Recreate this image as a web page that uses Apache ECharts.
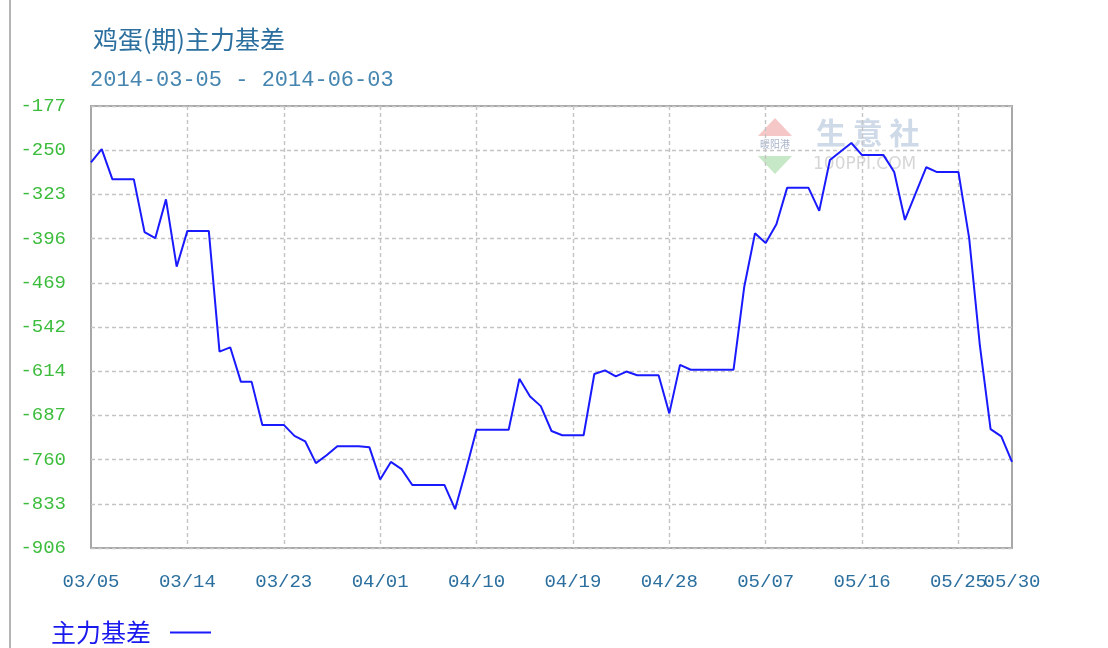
<!DOCTYPE html>
<html>
<head>
<meta charset="utf-8">
<script src="https://cdn.jsdelivr.net/npm/echarts@6/dist/echarts.min.js"></script>
<style>
html,body{margin:0;padding:0;background:#fff;}
#c{width:1108px;height:648px;}
</style>
</head>
<body>
<div id="c"></div>
<script>
// ---- data ----
const titleText = '鸡蛋(期)主力基差';
const subtitleText = '2014-03-05 - 2014-06-03';
const seriesName = '主力基差';
const startDate = '2014-03-05';
// one value per calendar day 03/05 .. 05/30 (non-trading days repeat last value)
const values = [
  -270, -248, -298, -298, -298, -385, -395, -331, -442, -383,
  -383, -383, -582, -575, -632, -632, -703, -703, -703, -721,
  -730, -766, -753, -738, -738, -738, -740, -793, -764, -776,
  -802, -802, -802, -802, -842, -778, -711, -711, -711, -711,
  -627, -656, -672, -713, -720, -720, -720, -619, -613, -623,
  -615, -621, -621, -621, -684, -604, -612, -612, -612, -612,
  -612, -475, -387, -403, -372, -312, -312, -312, -350, -266,
  -252, -238, -258, -258, -258, -286, -365, -321, -278, -286,
  -286, -286, -395, -572, -710, -722, -764
];
const yTickLabels = ['-906', '-833', '-760', '-687', '-614', '-542', '-469', '-396', '-323', '-250', '-177'];
const yMin = -906;
const yMax = -177;
const xLabelStep = 9;

// build categories (MM/DD) from start date
const categories = [];
{
  const d0 = new Date(startDate + 'T00:00:00Z');
  for (let i = 0; i < values.length; i++) {
    const d = new Date(d0.getTime() + i * 86400000);
    const mm = String(d.getUTCMonth() + 1).padStart(2, '0');
    const dd = String(d.getUTCDate()).padStart(2, '0');
    categories.push(mm + '/' + dd);
  }
}
const yInterval = (yMax - yMin) / (yTickLabels.length - 1);
const lastIdx = categories.length - 1;

const xLabelStyle = {margin: 24, color: '#2b6f9f', fontFamily: '"Liberation Mono", monospace', fontSize: 19};

const chart = echarts.init(document.getElementById('c'), null, {renderer: 'canvas'});
chart.setOption({
  animation: false,
  backgroundColor: '#fff',
  title: [
    {text: titleText, left: 88, top: 22,
     textStyle: {fontFamily: '"Noto Sans CJK SC", sans-serif', fontSize: 25, fontWeight: 'normal', color: '#2b6f9f'}},
    {text: subtitleText, left: 85, top: 64,
     textStyle: {fontFamily: '"Liberation Mono", monospace', fontSize: 22, fontWeight: 'normal', color: '#4585b0'}}
  ],
  legend: {
    left: 46, top: 615, align: 'right',
    icon: 'rect', itemWidth: 41, itemHeight: 2, itemGap: 10,
    textStyle: {fontFamily: '"Noto Sans CJK SC", sans-serif', fontSize: 25, color: '#1a1aee', padding: [0, 14, 0, 0]},
    data: [seriesName]
  },
  grid: {left: 91, right: 96, top: 106, bottom: 100, show: true, borderColor: '#a8a8a8', borderWidth: 2, containLabel: false},
  xAxis: [{
    type: 'category', data: categories, boundaryGap: false,
    axisLine: {show: false}, axisTick: {show: false},
    axisLabel: Object.assign({
      interval: (i) => i % xLabelStep === 0 && i !== lastIdx,
      showMinLabel: true, showMaxLabel: true
    }, xLabelStyle),
    splitLine: {show: true, interval: (i) => i % xLabelStep === 0 && i > 0 && i < lastIdx,
      lineStyle: {color: '#c4c4c4', type: [4, 3], width: 1.4}}
  }, {
    type: 'category', data: categories, boundaryGap: false, position: 'bottom',
    axisLine: {show: false}, axisTick: {show: false}, splitLine: {show: false},
    axisLabel: Object.assign({
      interval: (i) => i === lastIdx, showMinLabel: false, showMaxLabel: true
    }, xLabelStyle)
  }],
  yAxis: {
    type: 'value', min: yMin, max: yMax, interval: yInterval,
    axisLine: {show: false}, axisTick: {show: false},
    axisLabel: {
      margin: 25, color: '#3cbc3c',
      fontFamily: '"Liberation Mono", monospace', fontSize: 19,
      formatter: (v) => yTickLabels[Math.round((v - yMin) / yInterval)]
    },
    splitLine: {show: true, lineStyle: {color: '#c4c4c4', type: [4, 3], width: 1.4}}
  },
  graphic: [
    {type: 'line', shape: {x1: 10, y1: 0, x2: 10, y2: 648}, style: {stroke: '#b4b4b4', lineWidth: 2}, z: 0},
    {type: 'polygon', shape: {points: [[775, 118], [758, 136], [792, 136]]}, style: {fill: '#f6c7c7'}, z: 0},
    {type: 'polygon', shape: {points: [[758, 156], [792, 156], [775, 174]]}, style: {fill: '#c6e8c6'}, z: 0},
    {type: 'text', left: 760, top: 139, style: {text: '暖阳港', fontSize: 10, fill: '#aab4cc', fontFamily: '"Noto Sans CJK SC"'}, z: 0},
    {type: 'text', left: 816, top: 118, style: {text: '生 意 社', fontSize: 30, fontWeight: 'bold', fill: '#cfdae8', fontFamily: '"Noto Sans CJK SC"'}, z: 0},
    {type: 'text', left: 813, top: 156, style: {text: '100PPI.COM', fontSize: 17, fill: '#d6d6d6', fontFamily: '"DejaVu Sans"'}, z: 0}
  ],
  series: [{
    name: seriesName, type: 'line', data: values, xAxisIndex: 0,
    showSymbol: false, symbol: 'none',
    lineStyle: {color: '#1a1aff', width: 2},
    itemStyle: {color: '#1a1aff'},
    z: 5
  }]
});
</script>
</body>
</html>
